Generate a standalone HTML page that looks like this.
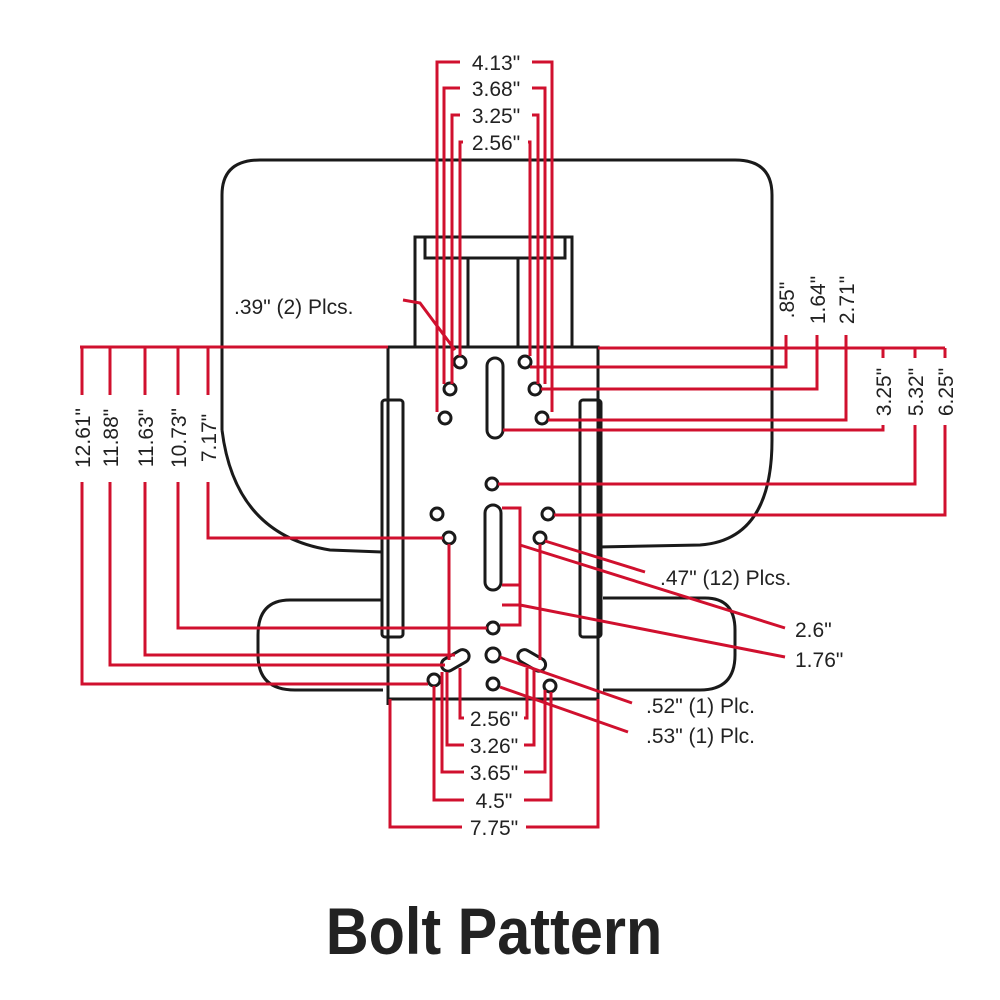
<!DOCTYPE html>
<html><head><style>body{margin:0;background:#fff}svg{display:block}</style></head><body>
<svg width="1000" height="1000" viewBox="0 0 1000 1000" xmlns="http://www.w3.org/2000/svg" font-family="Liberation Sans, Arial, sans-serif">
<g fill="none" stroke="#1a1a1a" stroke-width="3">
<path d="M222 430 L222 195 Q222 160 260 160 L735 160 Q772 160 772 195 L772 440 Q772 540 700 545 L598 547"/>
<path d="M222 430 Q235 535 330 550 L383 552"/>
<path d="M383 600 L290 600 Q258 600 258 635 L258 655 Q258 690 295 690 L383 690"/>
<path d="M603 598 L705 598 Q735 598 735 630 L735 655 Q735 690 700 690 L603 690"/>
<rect x="388" y="347" width="210" height="352"/>
<path d="M388 699 L388 705 M598 699 L598 705"/>
<rect x="382" y="400" width="21" height="237" rx="3"/>
<rect x="580" y="400" width="21" height="237" rx="3"/>
<path d="M415 347 L415 237 L572 237 L572 347"/>
<path d="M425 237 L425 258 L565 258 L565 237"/>
<path d="M468 347 L468 258 M518 347 L518 258"/>
<rect x="487" y="358" width="16" height="80" rx="8"/>
<rect x="485" y="505" width="16" height="85" rx="8"/>
<g fill="#fff">
<circle cx="460" cy="362" r="6"/><circle cx="450" cy="389" r="6"/><circle cx="445" cy="418" r="6"/>
<circle cx="525" cy="362" r="6"/><circle cx="535" cy="389" r="6"/><circle cx="542" cy="418" r="6"/>
<circle cx="492" cy="484" r="6"/><circle cx="437" cy="514" r="6"/><circle cx="449" cy="538" r="6"/>
<circle cx="548" cy="514" r="6"/><circle cx="540" cy="538" r="6"/>
<circle cx="493" cy="628" r="6"/><circle cx="493" cy="655" r="7"/><circle cx="493" cy="684" r="6"/>
<circle cx="434" cy="680" r="6"/><circle cx="550" cy="686" r="6"/>
</g>
<rect x="440" y="654" width="30" height="13" rx="6.5" transform="rotate(-30 455 660)"/>
<rect x="517" y="654" width="30" height="13" rx="6.5" transform="rotate(30 532 660)"/>
</g>
<g fill="none" stroke="#d0102e" stroke-width="3">
<path d="M437 412 L437 62 L460 62 M532 62 L552 62 L552 412"/>
<path d="M444 384 L444 88 L460 88 M532 88 L545 88 L545 384"/>
<path d="M452 384 L452 115 L460 115 M532 115 L538 115 L538 384"/>
<path d="M460 356 L460 142 L463 142 M528 142 L530 142 L530 356"/>
<path d="M403 300 L420 303 L455 350"/>
<path d="M80 347 L388 347"/>
<path d="M82 347 L82 395 M110 347 L110 395 M145 347 L145 395 M178 347 L178 395 M208 347 L208 395"/>
<path d="M82 482 L82 684 L428 684"/>
<path d="M110 482 L110 665 L445 665"/>
<path d="M145 482 L145 655 L455 655"/>
<path d="M178 482 L178 628 L487 628"/>
<path d="M208 482 L208 538 L443 538"/>
<path d="M598 348 L945 348"/>
<path d="M530 367 L786 367 L786 335 M541 389 L817 389 L817 335 M548 420 L846 420 L846 335"/>
<path d="M883 348 L883 358 M915 348 L915 358 M945 348 L945 358"/>
<path d="M503 430 L883 430 L883 425 M498 484 L915 484 L915 425 M554 515 L945 515 L945 425"/>
<path d="M545 541 L645 572"/>
<path d="M502 508 L520 508 L520 605 L502 605 M502 585 L520 585"/>
<path d="M520 545 L785 628"/>
<path d="M520 605 L785 657"/>
<path d="M500 657 L632 703"/>
<path d="M500 687 L628 732"/>
<path d="M520 605 L520 625 L500 625"/>
<path d="M460 668 L460 718 L464 718 M524 718 L527 718 L527 668"/>
<path d="M447 672 L447 745 L464 745 M524 745 L534 745 L534 668"/>
<path d="M442 672 L442 772 L464 772 M524 772 L545 772 L545 690"/>
<path d="M434 686 L434 800 L464 800 M524 800 L551 800 L551 692"/>
<path d="M390 699 L390 827 L462 827 M526 827 L598 827 L598 699"/>
<path d="M449 544 L449 660 M540 544 L540 660"/>
</g>
<g fill="#222" font-size="21" text-anchor="middle">
<text x="496" y="70">4.13"</text>
<text x="496" y="96">3.68"</text>
<text x="496" y="123">3.25"</text>
<text x="496" y="150">2.56"</text>
<text x="494" y="726">2.56"</text>
<text x="494" y="753">3.26"</text>
<text x="494" y="780">3.65"</text>
<text x="494" y="808">4.5"</text>
<text x="494" y="835">7.75"</text>
<g transform="translate(90,438) rotate(-90)"><text>12.61"</text></g>
<g transform="translate(118,438) rotate(-90)"><text>11.88"</text></g>
<g transform="translate(153,438) rotate(-90)"><text>11.63"</text></g>
<g transform="translate(186,438) rotate(-90)"><text>10.73"</text></g>
<g transform="translate(216,438) rotate(-90)"><text>7.17"</text></g>
<g transform="translate(794,300) rotate(-90)"><text>.85"</text></g>
<g transform="translate(825,300) rotate(-90)"><text>1.64"</text></g>
<g transform="translate(854,300) rotate(-90)"><text>2.71"</text></g>
<g transform="translate(891,392) rotate(-90)"><text>3.25"</text></g>
<g transform="translate(923,392) rotate(-90)"><text>5.32"</text></g>
<g transform="translate(953,392) rotate(-90)"><text>6.25"</text></g>
<g text-anchor="start">
<text x="234" y="314">.39" (2) Plcs.</text>
<text x="660" y="585">.47" (12) Plcs.</text>
<text x="795" y="637">2.6"</text>
<text x="795" y="667">1.76"</text>
<text x="646" y="713">.52" (1) Plc.</text>
<text x="646" y="743">.53" (1) Plc.</text>
</g>
</g>
<text x="494" y="954" text-anchor="middle" font-size="66" font-weight="bold" fill="#222" transform="translate(494 0) scale(0.9 1) translate(-494 0)">Bolt Pattern</text>
</svg>
</body></html>
